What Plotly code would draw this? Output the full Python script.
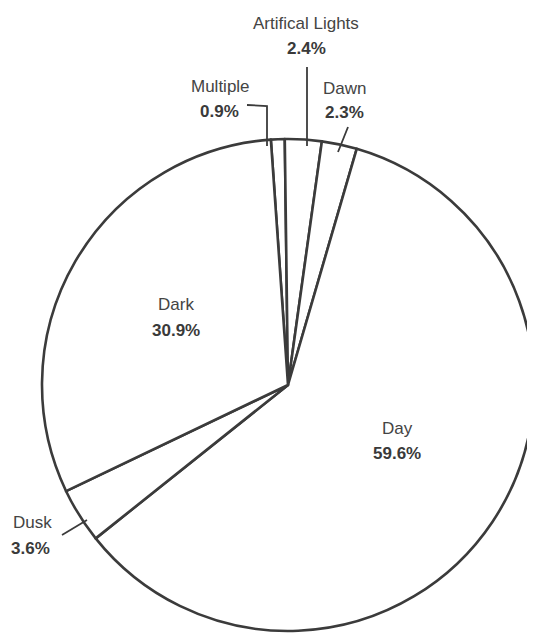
import plotly.graph_objects as go

# Data (clockwise from 12 o'clock)
labels = ["Multiple", "Artifical Lights", "Dawn", "Day", "Dusk", "Dark"]
values = [0.9, 2.4, 2.3, 59.6, 3.6, 30.9]

# the page body has an 8px margin; work in reference-image pixels and shift
OFF = 8
W, H = 535 - OFF, 638 - OFF

# label placement (reference pixel centres of name line / percent line)
label_pos = {
    "Artifical Lights": ((306, 23), (306, 48)),
    "Multiple": ((220, 86), (219, 112)),
    "Dawn": ((344, 89), (344, 113)),
    "Dark": ((176, 304), (176, 330)),
    "Day": ((397, 428), (397, 453)),
    "Dusk": ((32, 522), (30, 548)),
}

LINE = "#3b3b3b"
TEXT = "#3a3a3a"
FONT = "Liberation Sans, Arial, sans-serif"


def px(x):
    return (x - OFF) / W


def py(y):
    return 1 - (y - OFF) / H


fig = go.Figure(
    go.Pie(
        labels=labels,
        values=values,
        sort=False,
        direction="clockwise",
        rotation=-4,
        textinfo="none",
        hoverinfo="label+percent",
        marker=dict(colors=["white"] * len(labels), line=dict(color=LINE, width=2.6)),
        domain=dict(x=[px(42), px(534)], y=[py(631), py(139)]),
        showlegend=False,
    )
)

annotations = []
for lab, val in zip(labels, values):
    (nx, ny), (vx, vy) = label_pos[lab]
    annotations.append(dict(
        x=px(nx), y=py(ny), xref="paper", yref="paper", text=lab, showarrow=False,
        xanchor="center", yanchor="middle",
        font=dict(family=FONT, size=17, color="#444444"),
    ))
    annotations.append(dict(
        x=px(vx), y=py(vy), xref="paper", yref="paper", text=f"<b>{val}%</b>", showarrow=False,
        xanchor="center", yanchor="middle",
        font=dict(family=FONT, size=17, color=TEXT),
    ))

# leader lines
leaders = [
    [(247, 105), (267, 106), (267, 146)],  # Multiple
    [(307, 67), (307, 146)],               # Artificial lights
    [(348, 127), (338, 152)],              # Dawn
    [(62, 535), (87, 520)],                # Dusk
]
shapes = []
for pts in leaders:
    path = "M " + " L ".join(f"{px(x)},{py(y)}" for x, y in pts)
    shapes.append(dict(type="path", xref="paper", yref="paper", path=path,
                       line=dict(color=LINE, width=1.8)))

fig.update_layout(
    width=W, height=H,
    margin=dict(l=0, r=0, t=0, b=0),
    paper_bgcolor="white",
    plot_bgcolor="white",
    annotations=annotations,
    shapes=shapes,
)

fig.write_html("out.html")
